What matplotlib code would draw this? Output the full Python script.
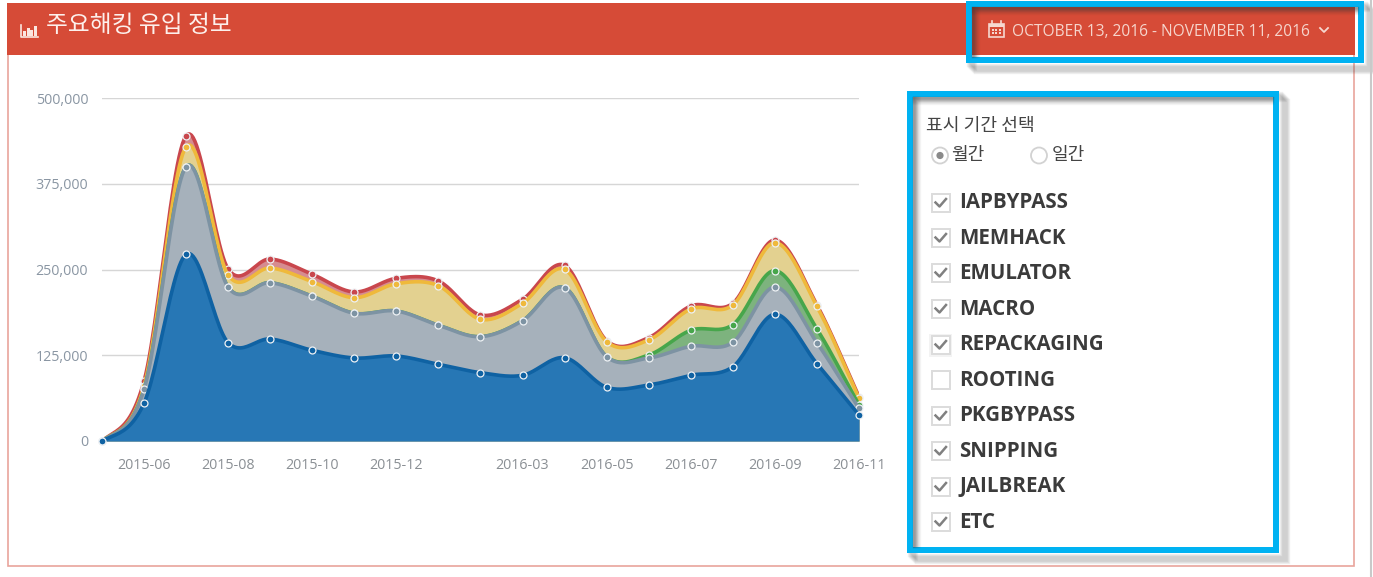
import numpy as np
import matplotlib
matplotlib.use("Agg")
import matplotlib.pyplot as plt
from matplotlib.patches import Rectangle, Circle

months = ["2015-05","2015-06","2015-07","2015-08","2015-09","2015-10","2015-11","2015-12","2016-01","2016-02",
          "2016-03","2016-04","2016-05","2016-06","2016-07","2016-08","2016-09","2016-10","2016-11"]
shown_ticks = ["2015-06","2015-08","2015-10","2015-12","2016-03","2016-05","2016-07","2016-09","2016-11"]
y_ticks = [0, 125000, 250000, 375000, 500000]

iapbypass = [0,55400,272200,143300,148700,132200,121000,123900,111800,99600,95800,121400,78300,81600,95800,108300,184700,112700,37900]
memhack   = [0,20000,127700,80800,82100,78700,65200,65600,56900,52500,79600,102000,44600,39400,42300,35600,39800,30600,9800]
emulator  = [0,0,0,0,0,0,0,0,0,0,0,0,0,4400,23300,25700,23800,20000,4800]
macro     = [0,4800,29200,17900,21400,21300,22700,39800,57700,25400,25400,26800,21900,21900,31000,28700,40800,33100,9800]
etc       = [0,7300,16000,8700,13100,10800,8300,7900,6900,6300,5800,5800,1500,3400,4400,2500,3900,1900,2300]

series = [iapbypass, memhack, emulator, macro, etc]
fills = ["#2777b5", "#a6b1bb", "#7db37e", "#e3d190", "#d68c90"]
lines = ["#0f62a3", "#7d93a3", "#47a64b", "#efb93b", "#c9474d"]

title = "주요해킹 유입 정보"
date_range = "OCTOBER 13, 2016 - NOVEMBER 11, 2016"
period_title = "표시 기간 선택"
period_options = ["월간", "일간"]
checks = ["IAPBYPASS","MEMHACK","EMULATOR","MACRO","REPACKAGING","ROOTING","PKGBYPASS","SNIPPING","JAILBREAK","ETC"]
checked = [True,True,True,True,True,False,True,True,True,True]

W, H = 1373, 577
CJK = ["Noto Sans CJK KR", "DejaVu Sans"]
fig = plt.figure(figsize=(W/100, H/100), dpi=100, facecolor="white")

# ---------- page furniture, in pixel coordinates ----------
ui = fig.add_axes([0, 0, 1, 1], zorder=5)
ui.set_xlim(0, W); ui.set_ylim(H, 0); ui.axis("off"); ui.patch.set_alpha(0)

ui.add_patch(Rectangle((7.5, 4), 1346.5, 562, fc="none", ec="#e9a49c", lw=1.2))
ui.add_patch(Rectangle((7, 3), 1348, 51.5, fc="#d64b37", ec="none"))
ui.plot([1371, 1371], [0, H], color="#c9c9c9", lw=1.5)

# bar icon
ui.plot([20.5, 20.5, 38], [25, 36.5, 36.5], color="#fbe6e0", lw=1.2)
for bx, bh in zip([23, 26.5, 30, 33.5], [5, 8, 6, 10]):
    ui.add_patch(Rectangle((bx, 35.5 - bh), 3, bh, fc="#fbe6e0", ec="none"))
ui.text(46, 26, title, family=CJK, fontsize=17.1, color="#fdf0ec", va="center", ha="left")

# calendar icon
ui.add_patch(Rectangle((989, 23.5), 14.5, 13, fc="none", ec="#f6d8d0", lw=1.2))
ui.add_patch(Rectangle((989, 23.5), 14.5, 3, fc="#f6d8d0", ec="none"))
for cx in (992, 1000.5):
    ui.plot([cx, cx], [21, 24], color="#f6d8d0", lw=1.2)
for cx in (992.5, 996.2, 1000):
    for cy in (29.5, 33):
        ui.add_patch(Rectangle((cx - 1, cy - 1), 2, 2, fc="#f6d8d0", ec="none"))
ui.text(1012, 32, date_range, family=["Open Sans"], fontsize=11.2, color="#f6d5cc", va="center", ha="left")
ui.plot([1320, 1324, 1328], [28, 32, 28], color="#f6d8d0", lw=1.3)


def shadowed_box(x0, y0, x1, y1, t=6):
    """Highlight frame with a soft drop shadow."""
    for k in range(8, 0, -1):
        off = k + 1
        ui.add_patch(Rectangle((x0 + off, y0 + off), x1 - x0, y1 - y0, fc="none",
                               ec="#444444", lw=2.4, alpha=0.08))
    ix0, iy0, ix1, iy1 = x0 + t, y0 + t, x1 - t, y1 - t
    for k in range(0, 8):
        a = 0.30 - k*0.037
        ui.plot([ix0 + k, ix0 + k], [iy0, iy1], color="#333333", lw=1, alpha=a)
        ui.plot([ix0, ix1], [iy0 + k, iy0 + k], color="#333333", lw=1, alpha=a)
    ui.add_patch(Rectangle((x0 + t/2, y0 + t/2), x1 - x0 - t, y1 - y0 - t, fc="none", ec="#00b2f2", lw=t*0.72))


shadowed_box(966, 1, 1364, 63)
shadowed_box(907, 91, 1279, 553)

ui.text(926, 125.5, period_title, family=CJK, fontsize=13.1, color="#444444", va="center", ha="left")
for (cx, tx, label, on) in zip((940, 1039), (951, 1052), period_options, (True, False)):
    ui.add_patch(Circle((cx, 155.5), 8, fc="white", ec="#d2d2d2", lw=1.3))
    if on:
        ui.add_patch(Circle((cx, 155.5), 3.6, fc="#8a8a8a", ec="none"))
    ui.text(tx, 155, label, family=CJK, fontsize=13, color="#444444", va="center", ha="left")

box_y = [203, 238, 273, 309, 345, 380, 416, 451, 487, 522]
text_y = [203, 238.5, 273.5, 309.5, 344.5, 380.5, 415.5, 451.5, 486.5, 522.5]
for label, on, by, ty in zip(checks, checked, box_y, text_y):
    if label == "REPACKAGING":
        ui.add_patch(Rectangle((929, by - 11.5), 23, 23, fc="#f3f3f3", ec="none"))
    ui.add_patch(Rectangle((931.5, by - 9), 18, 18, fc="white", ec="#dcdcdc", lw=1.4))
    if on:
        ui.plot([935.5, 939.5, 946], [by - 0.5, by + 3.5, by - 4], color="#808080", lw=1.8)
    ui.text(959.3, ty, label, family=["Open Sans"], fontsize=14.8, fontweight="bold",
            color="#3b3b3b", va="center", ha="left")

# ---------- chart ----------
ax = fig.add_axes([102/W, 1 - 441/H, (859 - 102)/W, (441 - 98)/H], zorder=6)
ax.patch.set_alpha(0)
x = np.arange(len(months), dtype=float)
cum = np.cumsum(np.array(series, dtype=float), axis=0)


def smooth(xs, ys, n=24):
    g = np.zeros_like(ys)
    g[1:-1] = (ys[2:] - ys[:-2]) / (xs[2:] - xs[:-2])
    g[0] = 0.6 * (ys[1] - ys[0]) / (xs[1] - xs[0])
    g[-1] = (ys[-1] - ys[-2]) / (xs[-1] - xs[-2])
    X, Y = [], []
    for i in range(len(xs) - 1):
        h = xs[i + 1] - xs[i]
        t = np.linspace(0, 1, n, endpoint=False)
        Y.append((2*t**3 - 3*t**2 + 1)*ys[i] + (t**3 - 2*t**2 + t)*h*g[i]
                 + (-2*t**3 + 3*t**2)*ys[i + 1] + (t**3 - t**2)*h*g[i + 1])
        X.append(xs[i] + t*h)
    return np.r_[np.concatenate(X), xs[-1]], np.r_[np.concatenate(Y), ys[-1]]


for k in range(len(series) - 1, -1, -1):
    sx, sy = smooth(x, cum[k])
    z = 10 + (len(series) - k) * 3
    ax.fill_between(sx, 0, sy, color=fills[k], lw=0, zorder=z)
    ax.plot(sx, sy, color=lines[k], lw=2.6, zorder=z + 1, solid_capstyle="butt")
    ax.plot(x, cum[k], ls="none", marker="o", ms=5.0, mfc=lines[k], mec="#eef1f4", mew=0.9,
            zorder=z + 2, clip_on=False)

ax.set_xlim(0, len(months) - 1)
ax.set_ylim(0, 500000)
ax.set_yticks(y_ticks)
ax.set_yticklabels([f"{v:,}" for v in y_ticks], family="Open Sans", fontsize=10.3, color="#8a96a3")
ax.set_xticks([months.index(m) for m in shown_ticks])
ax.set_xticklabels(shown_ticks, family="Open Sans", fontsize=10.3, color="#8a8f94")
ax.tick_params(axis="both", length=0)
ax.tick_params(axis="y", pad=10)
ax.tick_params(axis="x", pad=12.5)
ax.grid(axis="y", color="#d6d6d6", lw=1.0, zorder=1)
ax.set_axisbelow(True)
for s in ax.spines.values():
    s.set_visible(False)

fig.savefig("out.png", dpi=100, facecolor="white")
